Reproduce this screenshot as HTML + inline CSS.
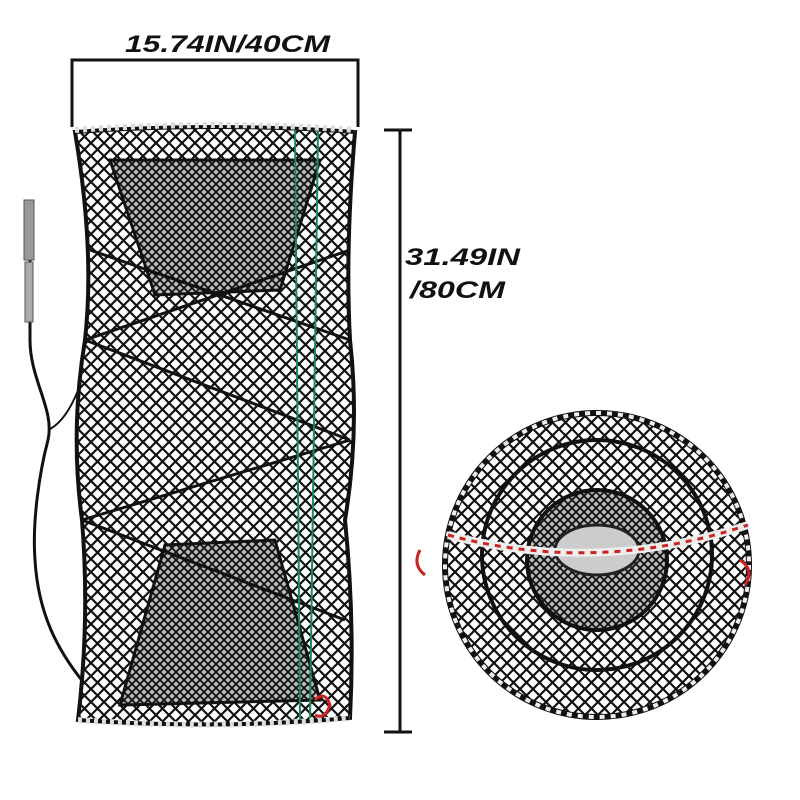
<!DOCTYPE html>
<html><head><meta charset="utf-8"><style>
html,body{margin:0;padding:0;background:#fff;}
svg{display:block}
text{font-family:"Liberation Sans",sans-serif;font-weight:bold;font-style:italic;fill:#111}
</style></head><body>
<svg width="800" height="800" viewBox="0 0 800 800" xmlns="http://www.w3.org/2000/svg">
<defs>
<pattern id="mesh" width="13" height="13" patternUnits="userSpaceOnUse">
<rect width="13" height="13" fill="#fff"/>
<path d="M0,0 L13,13 M13,0 L0,13" stroke="#111" stroke-width="2.2"/>
</pattern>
<pattern id="mesh2" width="8" height="8" patternUnits="userSpaceOnUse">
<rect width="8" height="8" fill="#bbb"/>
<path d="M0,0 L8,8 M8,0 L0,8" stroke="#111" stroke-width="1.8"/>
</pattern>
</defs>
<path d="M72,127 V60 H358 V127" fill="none" stroke="#111" stroke-width="3"/>
<text x="125" y="52" font-size="24" textLength="205" lengthAdjust="spacingAndGlyphs">15.74IN/40CM</text>
<path d="M400,130 V732 M384,130 H412 M384,732 H412" stroke="#111" stroke-width="3"/>
<text x="405" y="265" font-size="24" textLength="115" lengthAdjust="spacingAndGlyphs">31.49IN</text>
<text x="410" y="298" font-size="24" textLength="95" lengthAdjust="spacingAndGlyphs">/80CM</text>
<path d="M30,210 L30,340 C30,380 55,410 48,440 C40,470 32,520 35,560 C38,610 55,650 90,690" fill="none" stroke="#111" stroke-width="3"/>
<path d="M48,430 C70,420 85,380 95,330" fill="none" stroke="#111" stroke-width="2"/>
<rect x="24" y="200" width="10" height="60" fill="#999" stroke="#555"/>
<rect x="25" y="262" width="8" height="60" fill="#aaa" stroke="#555"/>
<path d="M75,132 Q215,122 355,132 Q345,250 350,340 Q360,430 345,520 Q355,620 350,718 Q215,730 78,720 Q90,620 82,520 Q70,430 85,340 Q95,250 75,132 Z" fill="url(#mesh)" stroke="#111" stroke-width="4"/>
<path d="M110,160 L320,160 L280,290 L155,295 Z" fill="url(#mesh2)" stroke="#111" stroke-width="3"/>
<path d="M165,545 L275,540 L320,700 L120,705 Z" fill="url(#mesh2)" stroke="#111" stroke-width="3"/>
<g stroke="#111" stroke-width="3" fill="none">
<path d="M85,340 L350,250 M85,340 L350,440 M82,520 L350,440 M82,520 L345,620 M90,250 L350,340"/>
</g>
<path d="M318,130 L310,720 M295,130 L300,720" stroke="#1a8a5a" stroke-width="2" fill="none"/>
<path d="M75,130 Q215,120 355,130" stroke="#ddd" stroke-width="6" fill="none" stroke-dasharray="4 4"/>
<path d="M78,720 Q215,730 350,718" stroke="#ddd" stroke-width="6" fill="none" stroke-dasharray="4 4"/>
<path d="M315,700 q10,-10 15,5 q-5,15 -15,10" stroke="#c22" stroke-width="3" fill="none"/>
<circle cx="597" cy="565" r="152" fill="url(#mesh)" stroke="#111" stroke-width="6"/>
<circle cx="597" cy="565" r="152" fill="none" stroke="#eee" stroke-width="4" stroke-dasharray="5 6"/>
<circle cx="597" cy="555" r="115" fill="none" stroke="#111" stroke-width="4"/>
<circle cx="597" cy="560" r="70" fill="url(#mesh2)" stroke="#111" stroke-width="4"/>
<ellipse cx="597" cy="550" rx="42" ry="25" fill="#ccc" stroke="#222" stroke-width="3"/>
<path d="M448,535 Q597,575 748,525" stroke="#eee" stroke-width="8" fill="none"/>
<path d="M448,535 Q597,575 748,525" stroke="#c22" stroke-width="3" fill="none" stroke-dasharray="6 6"/>
<path d="M420,550 q-8,15 5,25 M740,560 q15,10 5,25" stroke="#c22" stroke-width="3" fill="none"/>
</svg>
</body></html>
